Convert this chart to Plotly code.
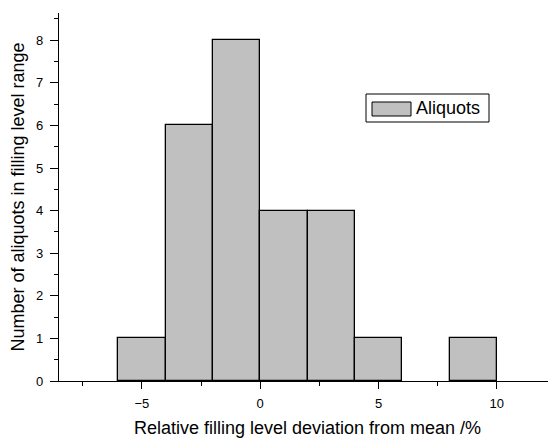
import plotly.graph_objects as go

bin_centers = [-5, -3, -1, 1, 3, 5, 9]
counts = [1, 6, 8, 4, 4, 1, 1]
series_name = "Aliquots"
x_title = "Relative filling level deviation from mean /%"
y_title = "Number of aliquots in filling level range"
x_ticks = [-5, 0, 5, 10]
y_ticks = [0, 1, 2, 3, 4, 5, 6, 7, 8]

font = "Liberation Sans, Arial, sans-serif"

fig = go.Figure()
fig.add_trace(go.Bar(
    x=bin_centers, y=counts, width=2, name=series_name,
    marker=dict(color="#c0c0c0", line=dict(color="#000000", width=1.3)),
    showlegend=False,
))

fig.update_layout(
    width=548, height=430,
    margin=dict(l=51, r=0, t=5, b=57),
    plot_bgcolor="white", paper_bgcolor="white",
    font=dict(family=font, size=13, color="black"),
    bargap=0,
    xaxis=dict(
        range=[-8.5, 12.5], tickvals=x_ticks, ticks="outside", ticklen=7,
        tickwidth=1, tickcolor="black", automargin=False, ticklabelstandoff=3,
        minor=dict(dtick=2.5, tick0=0, ticks="outside", ticklen=4, tickcolor="black", tickwidth=1),
        showline=True, linecolor="black", linewidth=1.4, showgrid=False, zeroline=False,
        title=dict(text=x_title, font=dict(size=18), standoff=12),
        tickfont=dict(size=13),
    ),
    yaxis=dict(
        range=[0, 8.64], tickvals=y_ticks, ticks="outside", ticklen=8,
        tickwidth=1, tickcolor="black", automargin=False, ticklabelstandoff=4,
        minor=dict(dtick=0.5, tick0=0, ticks="outside", ticklen=4, tickcolor="black", tickwidth=1),
        showline=True, linecolor="black", linewidth=1.4, showgrid=False, zeroline=False,
        title=dict(text=y_title, font=dict(size=18), standoff=10),
        tickfont=dict(size=13),
    ),
)

# legend drawn as box + swatch + label (paper coords of the plot area)
fig.add_shape(type="rect", xref="paper", yref="paper",
              x0=(366 - 59) / 497, x1=(489 - 59) / 497,
              y0=(381 - 122) / 368, y1=(381 - 94) / 368,
              line=dict(color="black", width=1), fillcolor="white")
fig.add_shape(type="rect", xref="paper", yref="paper",
              x0=(372 - 59) / 497, x1=(411 - 59) / 497,
              y0=(381 - 116) / 368, y1=(381 - 102) / 368,
              line=dict(color="black", width=1), fillcolor="#c0c0c0")
fig.add_annotation(xref="paper", yref="paper", x=(414 - 59) / 497, y=(381 - 108) / 368,
                   text=series_name, showarrow=False, xanchor="left", yanchor="middle",
                   font=dict(size=18, family=font, color="black"))

fig.write_html("out.html")
